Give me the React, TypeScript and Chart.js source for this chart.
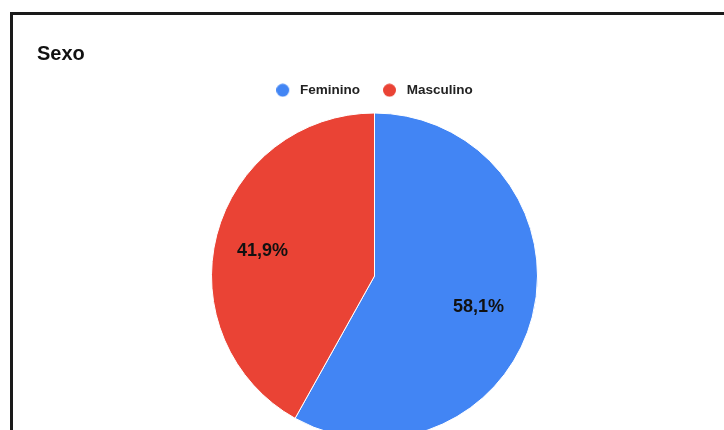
import React, { useEffect, useRef } from "react";
import { Chart, registerables } from "chart.js";

Chart.register(...registerables);

const categories = ["Feminino", "Masculino"];
const values = [58.1, 41.9];
const sliceColors = ["#4285F4", "#EA4335"];
const labelTexts = ["58,1%", "41,9%"];
const titleText = "Sexo";

const FONT = "Arial, 'Liberation Sans', sans-serif";

function makeDot(color: string) {
  const c = document.createElement("canvas");
  c.width = 17;
  c.height = 14;
  const g = c.getContext("2d")!;
  g.fillStyle = color;
  g.beginPath();
  g.arc(6.5, 7, 6.5, 0, Math.PI * 2);
  g.fill();
  return c;
}

const sliceLabelPlugin = {
  id: "sliceLabels",
  afterDatasetsDraw(chart: any) {
    const ctx = chart.ctx;
    const meta = chart.getDatasetMeta(0);
    ctx.save();
    ctx.font = "bold 18px " + FONT;
    ctx.fillStyle = "#111111";
    ctx.textAlign = "center";
    ctx.textBaseline = "middle";
    meta.data.forEach((arc: any, i: number) => {
      const p = arc.getProps(["x", "y", "startAngle", "endAngle", "outerRadius"], true);
      const mid = (p.startAngle + p.endAngle) / 2;
      const r = p.outerRadius * 0.685;
      ctx.fillText(labelTexts[i], p.x + Math.cos(mid) * r - 4, p.y + Math.sin(mid) * r + 3);
    });
    ctx.restore();
  },
};

export default function App() {
  const ref = useRef<HTMLCanvasElement>(null);
  useEffect(() => {
    if (!ref.current) return;
    const dots = sliceColors.map(makeDot);
    const chart = new Chart(ref.current, {
      type: "pie",
      data: {
        labels: categories,
        datasets: [
          {
            data: values,
            backgroundColor: sliceColors,
            borderColor: "#ffffff",
            borderWidth: 1,
          },
        ],
      },
      options: {
        animation: false,
        responsive: false,
        maintainAspectRatio: false,
        radius: 163,
        layout: { padding: { left: 37, right: 12, top: 0, bottom: 0 } },
        plugins: {
          title: {
            display: true,
            text: titleText,
            align: "start",
            color: "#111111",
            font: { family: FONT, size: 20, weight: "bold" },
            padding: { top: 42, bottom: -5.5 },
          },
          legend: {
            display: true,
            position: "top",
            labels: {
              usePointStyle: true,
              pointStyleWidth: 17,
              boxHeight: 9,
              padding: 23,
              color: "#222222",
              font: { family: FONT, size: 13.5, weight: "bold" },
              generateLabels: (chart: any) =>
                categories.map((name, i) => ({
                  text: name,
                  fillStyle: sliceColors[i],
                  strokeStyle: sliceColors[i],
                  lineWidth: 0,
                  pointStyle: dots[i],
                  fontColor: "#222222",
                  hidden: !chart.getDataVisibility(i),
                  index: i,
                })),
            },
          },
          tooltip: { enabled: false },
        },
      } as any,
      plugins: [sliceLabelPlugin],
    });
    return () => chart.destroy();
  }, []);

  return (
    <div
      style={{
        position: "absolute",
        left: 0,
        top: 0,
        width: 724,
        height: 430,
        overflow: "hidden",
        background: "#ffffff",
      }}
    >
      <div
        style={{
          position: "absolute",
          left: 10,
          top: 12,
          width: 800,
          height: 600,
          border: "3px solid #1a1a1a",
          boxSizing: "border-box",
        }}
      />
      <canvas
        ref={ref}
        width={724}
        height={445}
        style={{ position: "absolute", left: 0, top: 0, width: 724, height: 445 }}
      />
    </div>
  );
}
